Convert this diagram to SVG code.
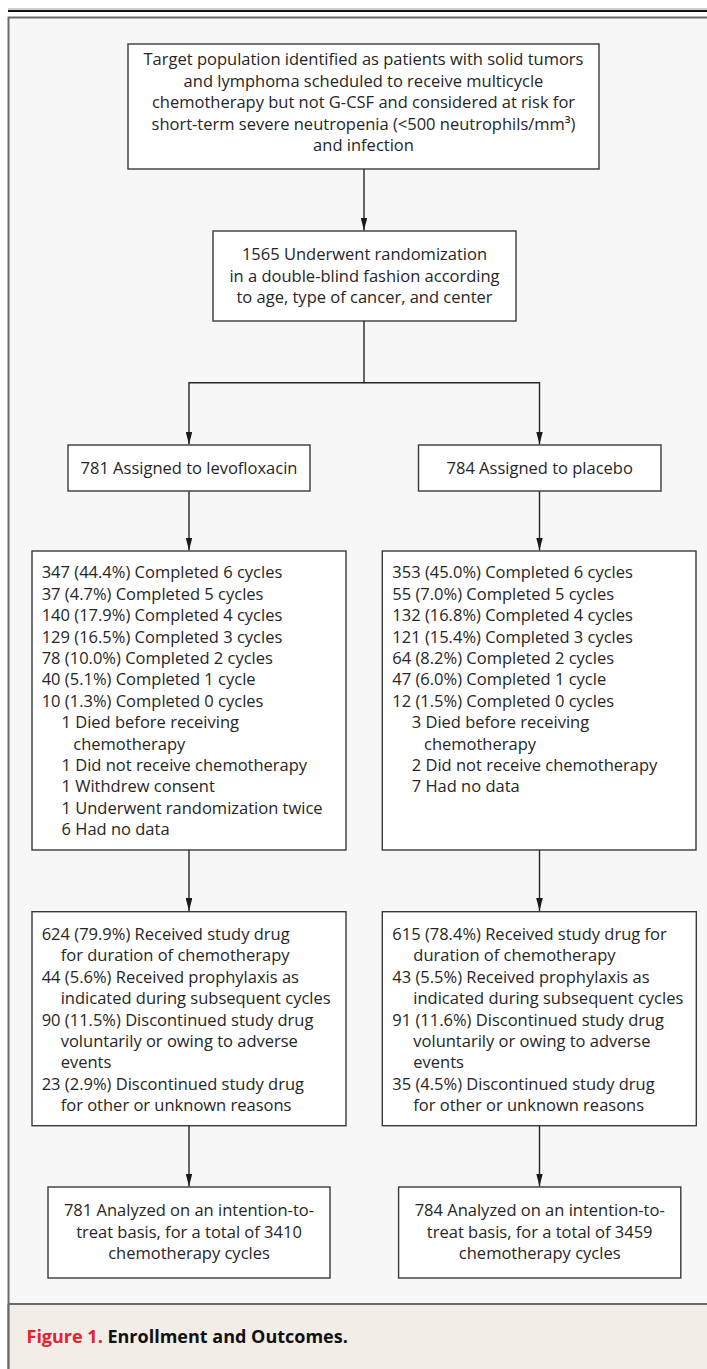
<svg xmlns="http://www.w3.org/2000/svg" width="707" height="1369" viewBox="0 0 707 1369">
<defs>
<style>
.box{fill:#ffffff;stroke:#3a3a3a;stroke-width:1.4}
.t{font-family:"Open Sans","Noto Sans","DejaVu Sans",sans-serif;font-size:16.5px;fill:#262626}
.c{text-anchor:middle}
.ln{fill:none;stroke:#262626;stroke-width:1.4}
.cap{font-family:"Open Sans","Noto Sans","DejaVu Sans",sans-serif;font-size:18px;font-weight:700}
</style>
<marker id="ah" markerUnits="userSpaceOnUse" markerWidth="13" markerHeight="6.6" refX="13" refY="3.3" orient="auto" viewBox="0 0 13 6.6">
<path d="M0,0 L13,3.3 L0,6.6 Z" fill="#1a1a1a"/>
</marker>
</defs>
<rect x="0" y="0" width="707" height="1369" fill="#ffffff"/>
<line x1="8" y1="9" x2="707" y2="9" stroke="#a0a0a0" stroke-width="1"/>
<line x1="8" y1="11" x2="707" y2="11" stroke="#111111" stroke-width="2"/>
<rect x="8.5" y="17.5" width="720" height="1400" fill="#f7f7f7" stroke="#6a6a6a" stroke-width="2"/>
<rect x="9.5" y="1304" width="720" height="80" fill="#f2ede7"/>
<line x1="8.5" y1="1304" x2="707" y2="1304" stroke="#6a6a6a" stroke-width="2"/>
<line x1="8.5" y1="1304" x2="8.5" y2="1369" stroke="#6a6a6a" stroke-width="2"/>

<g id="connectors">
<path class="ln" d="M364,169 V230.5" marker-end="url(#ah)"/>
<path class="ln" d="M364,321 V382.7 H189 V444.5" marker-end="url(#ah)"/>
<path class="ln" d="M364,382.7 H539.5 V444.5" marker-end="url(#ah)"/>
<path class="ln" d="M189,491 V550.5" marker-end="url(#ah)"/>
<path class="ln" d="M539.5,491 V550.5" marker-end="url(#ah)"/>
<path class="ln" d="M189,850 V911" marker-end="url(#ah)"/>
<path class="ln" d="M539.5,850 V911" marker-end="url(#ah)"/>
<path class="ln" d="M189,1125.7 V1186.5" marker-end="url(#ah)"/>
<path class="ln" d="M539.5,1125.7 V1186.5" marker-end="url(#ah)"/>
</g>

<g id="target">
<rect class="box" x="128" y="44" width="471" height="125"/>
<text class="t c" x="363.5" y="65">Target population identified as patients with solid tumors</text>
<text class="t c" x="363.5" y="86.6">and lymphoma scheduled to receive multicycle</text>
<text class="t c" x="363.5" y="108.2">chemotherapy but not G-CSF and considered at risk for</text>
<text class="t c" x="363.5" y="129.8">short-term severe neutropenia (&lt;500 neutrophils/mm³)</text>
<text class="t c" x="363.5" y="151.4">and infection</text>
</g>

<g id="randomization">
<rect class="box" x="213" y="231" width="303" height="90"/>
<text class="t c" x="364.5" y="260">1565 Underwent randomization</text>
<text class="t c" x="364.5" y="281.6">in a double-blind fashion according</text>
<text class="t c" x="364.5" y="303.2">to age, type of cancer, and center</text>
</g>

<g id="assigned-levo">
<rect class="box" x="68" y="445" width="242" height="46"/>
<text class="t c" x="189" y="474">781 Assigned to levofloxacin</text>
</g>

<g id="assigned-placebo">
<rect class="box" x="418.5" y="445" width="242.5" height="46"/>
<text class="t c" x="539.7" y="474">784 Assigned to placebo</text>
</g>

<g id="cycles-levo">
<rect class="box" x="32" y="551" width="314" height="299"/>
<text class="t" x="41.7" y="578.3">347 (44.4%) Completed 6 cycles</text>
<text class="t" x="41.7" y="599.7">37 (4.7%) Completed 5 cycles</text>
<text class="t" x="41.7" y="621.1">140 (17.9%) Completed 4 cycles</text>
<text class="t" x="41.7" y="642.5">129 (16.5%) Completed 3 cycles</text>
<text class="t" x="41.7" y="663.9">78 (10.0%) Completed 2 cycles</text>
<text class="t" x="41.7" y="685.3">40 (5.1%) Completed 1 cycle</text>
<text class="t" x="41.7" y="706.7">10 (1.3%) Completed 0 cycles</text>
<text class="t" x="61.5" y="728.1">1 Died before receiving</text>
<text class="t" x="73.3" y="749.5">chemotherapy</text>
<text class="t" x="61.5" y="770.9">1 Did not receive chemotherapy</text>
<text class="t" x="61.5" y="792.3">1 Withdrew consent</text>
<text class="t" x="61.5" y="813.7">1 Underwent randomization twice</text>
<text class="t" x="61.5" y="835.1">6 Had no data</text>
</g>

<g id="cycles-placebo">
<rect class="box" x="382.3" y="551" width="313.7" height="299"/>
<text class="t" x="392.3" y="578.3">353 (45.0%) Completed 6 cycles</text>
<text class="t" x="392.3" y="599.7">55 (7.0%) Completed 5 cycles</text>
<text class="t" x="392.3" y="621.1">132 (16.8%) Completed 4 cycles</text>
<text class="t" x="392.3" y="642.5">121 (15.4%) Completed 3 cycles</text>
<text class="t" x="392.3" y="663.9">64 (8.2%) Completed 2 cycles</text>
<text class="t" x="392.3" y="685.3">47 (6.0%) Completed 1 cycle</text>
<text class="t" x="392.3" y="706.7">12 (1.5%) Completed 0 cycles</text>
<text class="t" x="411.7" y="728.1">3 Died before receiving</text>
<text class="t" x="424" y="749.5">chemotherapy</text>
<text class="t" x="411.7" y="770.9">2 Did not receive chemotherapy</text>
<text class="t" x="411.7" y="792.3">7 Had no data</text>
</g>

<g id="drug-levo">
<rect class="box" x="32" y="911.7" width="314" height="214"/>
<text class="t" x="41.7" y="940">624 (79.9%) Received study drug</text>
<text class="t" x="60.7" y="961.4">for duration of chemotherapy</text>
<text class="t" x="41.7" y="982.8">44 (5.6%) Received prophylaxis as</text>
<text class="t" x="60.7" y="1004.2">indicated during subsequent cycles</text>
<text class="t" x="41.7" y="1025.6">90 (11.5%) Discontinued study drug</text>
<text class="t" x="60.7" y="1047">voluntarily or owing to adverse</text>
<text class="t" x="60.7" y="1068.4">events</text>
<text class="t" x="41.7" y="1089.8">23 (2.9%) Discontinued study drug</text>
<text class="t" x="60.7" y="1111.2">for other or unknown reasons</text>
</g>

<g id="drug-placebo">
<rect class="box" x="382.3" y="911.7" width="314" height="214"/>
<text class="t" x="392.3" y="940">615 (78.4%) Received study drug for</text>
<text class="t" x="413.3" y="961.4">duration of chemotherapy</text>
<text class="t" x="392.3" y="982.8">43 (5.5%) Received prophylaxis as</text>
<text class="t" x="413.3" y="1004.2">indicated during subsequent cycles</text>
<text class="t" x="392.3" y="1025.6">91 (11.6%) Discontinued study drug</text>
<text class="t" x="413.3" y="1047">voluntarily or owing to adverse</text>
<text class="t" x="413.3" y="1068.4">events</text>
<text class="t" x="392.3" y="1089.8">35 (4.5%) Discontinued study drug</text>
<text class="t" x="413.3" y="1111.2">for other or unknown reasons</text>
</g>

<g id="analyzed-levo">
<rect class="box" x="48" y="1187" width="282" height="91"/>
<text class="t c" x="189" y="1216">781 Analyzed on an intention-to-</text>
<text class="t c" x="189" y="1237.5">treat basis, for a total of 3410</text>
<text class="t c" x="189" y="1259">chemotherapy cycles</text>
</g>

<g id="analyzed-placebo">
<rect class="box" x="398.6" y="1187" width="282.2" height="91"/>
<text class="t c" x="539.7" y="1216">784 Analyzed on an intention-to-</text>
<text class="t c" x="539.7" y="1237.5">treat basis, for a total of 3459</text>
<text class="t c" x="539.7" y="1259">chemotherapy cycles</text>
</g>

<g id="caption">
<text class="cap" x="26.5" y="1343"><tspan fill="#e8202e">Figure 1.</tspan><tspan fill="#111111"> Enrollment and Outcomes.</tspan></text>
</g>
</svg>
